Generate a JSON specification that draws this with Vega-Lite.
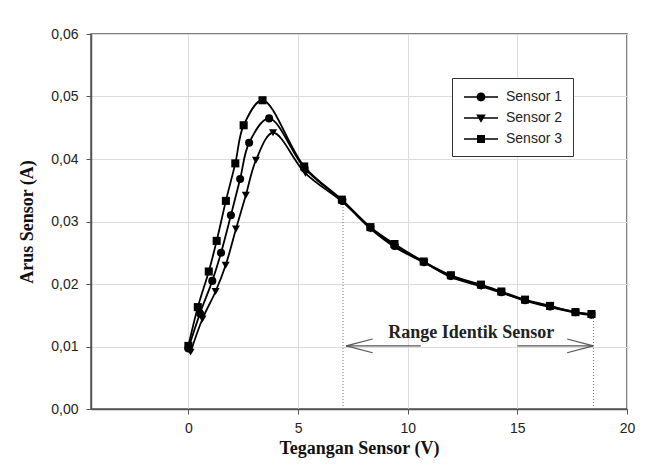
{
  "$schema": "https://vega.github.io/schema/vega-lite/v6.json",
  "width": 536,
  "height": 375,
  "autosize": "none",
  "padding": {"left": 91, "top": 34, "right": 19, "bottom": 64},
  "background": "white",
  "config": {
    "view": {"stroke": "#555", "strokeWidth": 1.5},
    "axis": {
      "grid": true,
      "gridColor": "#dcdcdc",
      "gridWidth": 1,
      "domainColor": "#555",
      "domainWidth": 1.5,
      "tickColor": "#555",
      "tickSize": 5,
      "labelFont": "Liberation Sans",
      "labelFontSize": 14,
      "labelColor": "#222",
      "titleFont": "Liberation Serif",
      "titleFontSize": 18,
      "titleFontWeight": "bold",
      "titleColor": "#111"
    }
  },
  "datasets": {
    "curves": [
      {"sensor": "Sensor 1", "v": 0.0, "i": 0.0097},
      {"sensor": "Sensor 1", "v": 0.53, "i": 0.0153},
      {"sensor": "Sensor 1", "v": 1.09, "i": 0.0205},
      {"sensor": "Sensor 1", "v": 1.49, "i": 0.025},
      {"sensor": "Sensor 1", "v": 1.94, "i": 0.031},
      {"sensor": "Sensor 1", "v": 2.36, "i": 0.0368},
      {"sensor": "Sensor 1", "v": 2.77, "i": 0.0426},
      {"sensor": "Sensor 1", "v": 3.68, "i": 0.0465},
      {"sensor": "Sensor 1", "v": 5.3, "i": 0.0385},
      {"sensor": "Sensor 1", "v": 7.02, "i": 0.0333},
      {"sensor": "Sensor 1", "v": 8.3, "i": 0.029},
      {"sensor": "Sensor 1", "v": 9.4, "i": 0.0261},
      {"sensor": "Sensor 1", "v": 10.74, "i": 0.0235},
      {"sensor": "Sensor 1", "v": 11.96, "i": 0.0213},
      {"sensor": "Sensor 1", "v": 13.33, "i": 0.0198},
      {"sensor": "Sensor 1", "v": 14.27, "i": 0.0187},
      {"sensor": "Sensor 1", "v": 15.35, "i": 0.0174},
      {"sensor": "Sensor 1", "v": 16.49, "i": 0.0164},
      {"sensor": "Sensor 1", "v": 17.65, "i": 0.0155},
      {"sensor": "Sensor 1", "v": 18.38, "i": 0.0151},
      {"sensor": "Sensor 2", "v": 0.1, "i": 0.0091},
      {"sensor": "Sensor 2", "v": 0.64, "i": 0.0144},
      {"sensor": "Sensor 2", "v": 1.24, "i": 0.0188},
      {"sensor": "Sensor 2", "v": 1.7, "i": 0.023},
      {"sensor": "Sensor 2", "v": 2.17, "i": 0.0288},
      {"sensor": "Sensor 2", "v": 2.62, "i": 0.0342},
      {"sensor": "Sensor 2", "v": 3.08, "i": 0.0398},
      {"sensor": "Sensor 2", "v": 3.86, "i": 0.0442},
      {"sensor": "Sensor 2", "v": 5.34, "i": 0.0377},
      {"sensor": "Sensor 2", "v": 7.04, "i": 0.0331},
      {"sensor": "Sensor 2", "v": 8.32, "i": 0.0288},
      {"sensor": "Sensor 2", "v": 9.42, "i": 0.0259},
      {"sensor": "Sensor 2", "v": 10.76, "i": 0.0234},
      {"sensor": "Sensor 2", "v": 11.98, "i": 0.0211},
      {"sensor": "Sensor 2", "v": 13.35, "i": 0.0196},
      {"sensor": "Sensor 2", "v": 14.28, "i": 0.0186},
      {"sensor": "Sensor 2", "v": 15.36, "i": 0.0173},
      {"sensor": "Sensor 2", "v": 16.5, "i": 0.0163},
      {"sensor": "Sensor 2", "v": 17.66, "i": 0.0154},
      {"sensor": "Sensor 2", "v": 18.39, "i": 0.015},
      {"sensor": "Sensor 3", "v": 0.0, "i": 0.0101},
      {"sensor": "Sensor 3", "v": 0.43, "i": 0.0163},
      {"sensor": "Sensor 3", "v": 0.93, "i": 0.022},
      {"sensor": "Sensor 3", "v": 1.29, "i": 0.0269},
      {"sensor": "Sensor 3", "v": 1.71, "i": 0.0333},
      {"sensor": "Sensor 3", "v": 2.14, "i": 0.0393},
      {"sensor": "Sensor 3", "v": 2.52, "i": 0.0454},
      {"sensor": "Sensor 3", "v": 3.38, "i": 0.0494},
      {"sensor": "Sensor 3", "v": 5.28, "i": 0.0388},
      {"sensor": "Sensor 3", "v": 7.0, "i": 0.0335},
      {"sensor": "Sensor 3", "v": 8.3, "i": 0.0291},
      {"sensor": "Sensor 3", "v": 9.4, "i": 0.0264},
      {"sensor": "Sensor 3", "v": 10.73, "i": 0.0236},
      {"sensor": "Sensor 3", "v": 11.97, "i": 0.0214},
      {"sensor": "Sensor 3", "v": 13.34, "i": 0.0199},
      {"sensor": "Sensor 3", "v": 14.27, "i": 0.0188},
      {"sensor": "Sensor 3", "v": 15.35, "i": 0.0175},
      {"sensor": "Sensor 3", "v": 16.49, "i": 0.0165},
      {"sensor": "Sensor 3", "v": 17.65, "i": 0.0155},
      {"sensor": "Sensor 3", "v": 18.38, "i": 0.0152}
    ],
    "guides": [
      {"v": 7.05, "i": 0.0, "v2": 7.05, "i2": 0.0333},
      {"v": 18.47, "i": 0.0, "v2": 18.47, "i2": 0.015}
    ],
    "arrows": [
      {"v": 7.2, "i": 0.0101, "v2": 10.6, "i2": 0.0101},
      {"v": 7.2, "i": 0.0101, "v2": 8.4, "i2": 0.0112},
      {"v": 7.2, "i": 0.0101, "v2": 8.4, "i2": 0.009},
      {"v": 15.0, "i": 0.0101, "v2": 18.46, "i2": 0.0101},
      {"v": 18.46, "i": 0.0101, "v2": 17.27, "i2": 0.0112},
      {"v": 18.46, "i": 0.0101, "v2": 17.27, "i2": 0.009}
    ],
    "notes": [
      {"v": 12.9, "i": 0.0121, "label": "Range Identik Sensor"}
    ]
  },
  "encoding": {
    "x": {
      "field": "v",
      "type": "quantitative",
      "scale": {"domain": [-4.44, 20], "nice": false, "zero": false},
      "axis": {
        "title": "Tegangan Sensor (V)",
        "values": [0, 5, 10, 15, 20],
        "labelPadding": 7,
        "titlePadding": 4,
        "labelFlush": false
      }
    },
    "y": {
      "field": "i",
      "type": "quantitative",
      "scale": {"domain": [0, 0.06], "nice": false},
      "axis": {
        "title": "Arus Sensor (A)",
        "values": [0, 0.01, 0.02, 0.03, 0.04, 0.05, 0.06],
        "labelExpr": "replace(format(datum.value, '.2f'), '.', ',')",
        "labelPadding": 8,
        "titlePadding": 14
      }
    }
  },
  "resolve": {"scale": {"shape": "independent"}},
  "layer": [
    {
      "data": {"name": "guides"},
      "mark": {"type": "rule", "color": "#777", "strokeWidth": 1, "strokeDash": [1, 2]},
      "encoding": {"x2": {"field": "v2"}, "y2": {"field": "i2"}}
    },
    {
      "data": {"name": "arrows"},
      "mark": {"type": "rule", "color": "#555", "strokeWidth": 1.2},
      "encoding": {"x2": {"field": "v2"}, "y2": {"field": "i2"}}
    },
    {
      "data": {"name": "notes"},
      "mark": {"type": "text", "font": "Liberation Serif", "fontWeight": "bold", "fontSize": 18, "color": "#222", "baseline": "middle", "align": "center"},
      "encoding": {"text": {"field": "label"}}
    },
    {
      "data": {"name": "curves"},
      "mark": {"type": "line", "color": "black", "strokeWidth": 1.8, "interpolate": "catmull-rom"},
      "encoding": {"detail": {"field": "sensor"}}
    },
    {
      "data": {"name": "curves"},
      "mark": {"type": "point", "filled": true, "color": "black", "opacity": 1, "size": 65},
      "encoding": {
        "shape": {
          "field": "sensor",
          "type": "nominal",
          "scale": {"domain": ["Sensor 1", "Sensor 2", "Sensor 3"], "range": ["circle", "triangle-down", "square"]},
          "legend": null
        }
      }
    },
    {
      "data": {"name": "curves"},
      "mark": {"type": "point", "filled": true, "color": "black", "opacity": 0},
      "encoding": {
        "shape": {
          "field": "sensor",
          "type": "nominal",
          "scale": {
            "domain": ["Sensor 1", "Sensor 2", "Sensor 3"],
            "range": [
              "M-2.125,-0.1H2.125V0.1H-2.125ZM0.56,0A0.56,0.56,0,1,1,-0.56,0A0.56,0.56,0,1,1,0.56,0Z",
              "M-2.125,-0.1H2.125V0.1H-2.125ZM-0.6,-0.45L0.6,-0.45L0,0.58Z",
              "M-2.125,-0.1H2.125V0.1H-2.125ZM-0.5,-0.5H0.5V0.5H-0.5Z"
            ]
          },
          "legend": {
            "title": null,
            "orient": "none",
            "legendX": 361,
            "legendY": 44,
            "padding": 10,
            "strokeColor": "#333",
            "fillColor": "white",
            "symbolSize": 256,
            "symbolOffset": 10,
            "labelOffset": 16,
            "labelFont": "Liberation Sans",
            "labelFontSize": 14,
            "labelColor": "#222",
            "rowPadding": 4,
            "labelExpr": "datum.label + '    '",
            "encode": {
              "symbols": {
                "update": {
                  "fill": {"value": "black"},
                  "stroke": {"value": "black"},
                  "strokeWidth": {"value": 0.5},
                  "opacity": {"value": 1},
                  "fillOpacity": {"value": 1},
                  "strokeOpacity": {"value": 1}
                }
              }
            }
          }
        }
      }
    }
  ]
}
